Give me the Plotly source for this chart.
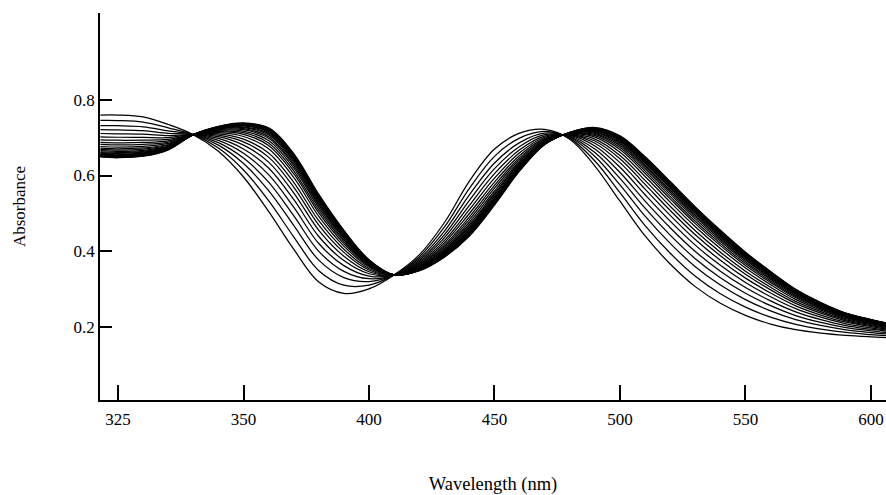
import plotly.graph_objects as go

# Wavelength grid (nm) on which the two limiting spectra were read
wavelength = [293, 300, 310, 320, 330, 340, 350, 360, 370, 380, 390, 400, 410,
              420, 430, 440, 450, 460, 470, 480, 490, 500, 510, 520, 530, 540,
              550, 560, 570, 580, 590, 600, 606]

# First scan (thin outermost curve)
abs_first = [0.760, 0.760, 0.755, 0.735, 0.708, 0.664, 0.596, 0.505, 0.405, 0.318,
             0.288, 0.300, 0.337, 0.390, 0.475, 0.585, 0.670, 0.712, 0.722, 0.696,
             0.625, 0.532, 0.440, 0.366, 0.306, 0.262, 0.230, 0.207, 0.192, 0.183,
             0.177, 0.173, 0.171]

# Last scan (edge of the dense black band)
abs_last = [0.649, 0.647, 0.651, 0.668, 0.708, 0.730, 0.739, 0.726, 0.658, 0.550,
            0.455, 0.377, 0.337, 0.348, 0.384, 0.440, 0.522, 0.612, 0.682, 0.714,
            0.727, 0.705, 0.650, 0.584, 0.517, 0.455, 0.397, 0.346, 0.299, 0.264,
            0.236, 0.219, 0.210]

scan_fraction = [0.0, 0.13, 0.25, 0.35, 0.44, 0.52, 0.59, 0.65, 0.70, 0.75, 0.79,
                 0.82, 0.85, 0.875, 0.895, 0.915, 0.93, 0.945, 0.955, 0.965,
                 0.975, 0.985, 0.993, 1.0]

x_tick_vals = [300, 350, 400, 450, 500, 550, 600]
x_tick_text = ["325", "350", "400", "450", "500", "550", "600"]
y_tick_vals = [0.2, 0.4, 0.6, 0.8]
y_tick_text = ["0.2", "0.4", "0.6", "0.8"]

fig = go.Figure()
for f in scan_fraction:
    ys = [a + (b - a) * f for a, b in zip(abs_first, abs_last)]
    fig.add_trace(go.Scatter(
        x=wavelength, y=ys, mode="lines",
        line=dict(color="black", width=1.25, shape="spline", smoothing=1.0),
        showlegend=False, hoverinfo="skip"))

serif = "Liberation Serif, Times New Roman, serif"
fig.update_layout(
    width=886, height=495,
    margin=dict(l=100, r=0, t=13, b=95),
    paper_bgcolor="white", plot_bgcolor="white",
    font=dict(family=serif, color="black", size=17),
    xaxis=dict(
        range=[292.83, 605.98], tickvals=x_tick_vals, ticktext=x_tick_text,
        ticks="inside", ticklen=15, tickwidth=1.5, tickcolor="black",
        showline=True, linecolor="black", linewidth=1.6,
        showgrid=False, zeroline=False, ticklabelstandoff=3,
        tickfont=dict(family=serif, size=17),
        title=dict(text="Wavelength (nm)", font=dict(family=serif, size=18.5), standoff=50),
    ),
    yaxis=dict(
        range=[0.006, 1.030], tickvals=y_tick_vals, ticktext=y_tick_text,
        ticks="inside", ticklen=12, tickwidth=1.5, tickcolor="black",
        showline=True, linecolor="black", linewidth=1.6,
        showgrid=False, zeroline=False,
        tickfont=dict(family=serif, size=17),
        title=dict(text="Absorbance", font=dict(family=serif, size=17), standoff=44),
    ),
)

fig.write_html("out.html")
